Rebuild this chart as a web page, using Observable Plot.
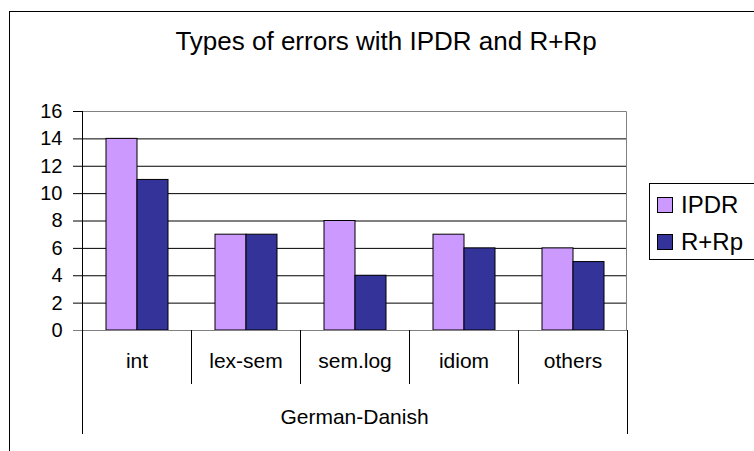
<!DOCTYPE html>
<html>
<head>
<meta charset="utf-8">
<script src="https://cdn.jsdelivr.net/npm/d3@7"></script>
<script src="https://cdn.jsdelivr.net/npm/@observablehq/plot@0.6"></script>
<style>
  html, body { margin: 0; padding: 0; background: #ffffff; }
  #chart svg { display: block; }
</style>
</head>
<body>
<div id="chart"></div>
<script>
// ---- data ----
const categories = ["int", "lex-sem", "sem.log", "idiom", "others"];
const seriesNames = ["IPDR", "R+Rp"];
const ipdrValues = [14, 7, 8, 7, 6];
const rrpValues = [11, 7, 4, 6, 5];
const yTicks = [0, 2, 4, 6, 8, 10, 12, 14, 16];
const seriesColors = ["#CC99FF", "#333399"];
const groupLabel = "German-Danish";
const titleText = "Types of errors with IPDR and R+Rp";

const rows = categories.flatMap((c, i) => [
  {cat: c, s: seriesNames[0], v: ipdrValues[i]},
  {cat: c, s: seriesNames[1], v: rrpValues[i]}
]);

const W = 754, H = 451;
const FONT = "'Liberation Sans', Arial, sans-serif";

const plot = Plot.plot({
  width: W,
  height: H,
  marginLeft: 80,
  marginRight: 126,
  marginTop: 111,
  marginBottom: 121,
  style: {fontFamily: FONT, fontSize: "20px", background: "#ffffff", color: "#000"},
  fx: {domain: categories, padding: 0, axis: null, label: null},
  x: {domain: seriesNames, paddingInner: 0, paddingOuter: 0.75, axis: null},
  y: {domain: [0, 16], axis: null},
  color: {domain: seriesNames, range: seriesColors},
  marks: [
    Plot.gridY(yTicks.filter(d => d > 0 && d < 16), {stroke: "#000", strokeOpacity: 1, strokeWidth: 1}),
    Plot.barY(rows, {fx: "cat", x: "s", y: "v", fill: "s", stroke: "#000", strokeWidth: 1}),
    Plot.text(categories, {fx: d => d, text: d => d, frameAnchor: "bottom", dy: 37, fontSize: 21, fill: "#000"}),
    Plot.axisY({ticks: yTicks, tickSize: 9, tickPadding: 11, fontSize: 20, stroke: "#000", label: null})
  ]
});

document.getElementById("chart").appendChild(plot);

const svg = d3.select(plot);
const yS = plot.scale("y");
const fxS = plot.scale("fx");
const y0 = yS.apply(0), yTop = yS.apply(16);
const left = fxS.apply(categories[0]);
const right = fxS.apply(categories[categories.length - 1]) + fxS.bandwidth;

// chart area border
svg.append("rect")
  .attr("x", 9.5).attr("y", 11.5)
  .attr("width", W + 10).attr("height", H + 10)
  .attr("fill", "none").attr("stroke", "#000").attr("stroke-width", 1);

// plot area border (top/right) in gray
svg.append("path")
  .attr("d", `M${left},${yTop + 0.5}H${right - 0.5}V${y0}`)
  .attr("fill", "none").attr("stroke", "#808080").attr("stroke-width", 1);

// y axis line
svg.append("line")
  .attr("x1", left + 0.5).attr("x2", left + 0.5)
  .attr("y1", yTop).attr("y2", y0)
  .attr("stroke", "#000");

// category axis baseline
svg.append("line")
  .attr("x1", left - 9).attr("x2", right)
  .attr("y1", y0 + 0.5).attr("y2", y0 + 0.5)
  .attr("stroke", "#808080");

// category separators
const edges = categories.map(c => fxS.apply(c)).concat([right]);
edges.forEach((x, i) => {
  const outer = i === 0 || i === edges.length - 1;
  svg.append("line")
    .attr("x1", Math.round(x) + 0.5).attr("x2", Math.round(x) + 0.5)
    .attr("y1", y0).attr("y2", y0 + (outer ? 104 : 54))
    .attr("stroke", "#000");
});

// group label
svg.append("text")
  .attr("x", (left + right) / 2).attr("y", y0 + 87)
  .attr("dy", "0.35em")
  .attr("text-anchor", "middle")
  .attr("font-family", FONT).attr("font-size", 21)
  .attr("fill", "#000")
  .text(groupLabel);

// title
svg.append("text")
  .attr("x", 386).attr("y", 50)
  .attr("text-anchor", "middle")
  .attr("font-family", FONT).attr("font-size", 26)
  .attr("fill", "#000")
  .text(titleText);

// legend
const lg = svg.append("g");
lg.append("rect")
  .attr("x", 649.5).attr("y", 183.5).attr("width", 120).attr("height", 76)
  .attr("fill", "#fff").attr("stroke", "#000");
seriesNames.forEach((s, i) => {
  const cy = 205 + i * 37;
  lg.append("rect")
    .attr("x", 657.5).attr("y", cy - 7.5).attr("width", 15).attr("height", 15)
    .attr("fill", seriesColors[i]).attr("stroke", "#000");
  lg.append("text")
    .attr("x", 681).attr("y", cy).attr("dy", "0.35em")
    .attr("text-anchor", "start")
    .attr("font-family", FONT).attr("font-size", 24)
    .attr("fill", "#000")
    .text(s);
});
</script>
</body>
</html>
